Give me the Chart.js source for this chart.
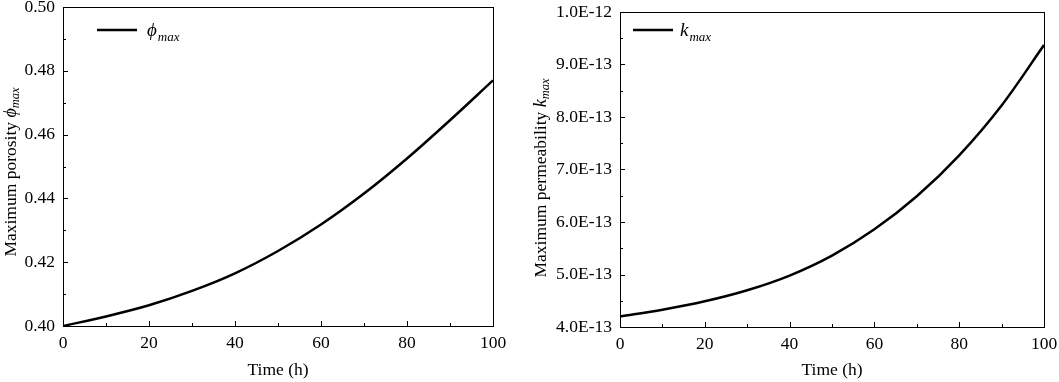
<!DOCTYPE html>
<html>
<head>
<meta charset="utf-8">
<script src="https://cdn.jsdelivr.net/npm/chart.js@4.4.1/dist/chart.umd.min.js"></script>
<style>
    html, body { margin: 0; padding: 0; background: #fff; }
    #wrap { position: relative; width: 1059px; height: 382px; }
    .panel { position: absolute; top: 0; height: 382px; }
    #left { left: 0; width: 530px; }
    #right { left: 530px; width: 529px; }
</style>
</head>
<body>
<div id="wrap">
    <div class="panel" id="left"><canvas id="porosityChart" width="530" height="382"></canvas></div>
    <div class="panel" id="right"><canvas id="permChart" width="529" height="382"></canvas></div>
</div>
<script>
// values
const timeHours = [0, 10, 20, 30, 40, 50, 60, 70, 80, 90, 100];
const maxPorosity = [0.4000, 0.4030, 0.4065, 0.4110, 0.4165, 0.4235, 0.4318, 0.4415, 0.4525, 0.4645, 0.4770];
const maxPermeability = [4.20e-13, 4.33e-13, 4.49e-13, 4.70e-13, 4.98e-13, 5.36e-13, 5.86e-13, 6.49e-13, 7.27e-13, 8.22e-13, 9.37e-13];

const timeTicks = [0, 20, 40, 60, 80, 100];
const porosityTicks = [0.40, 0.42, 0.44, 0.46, 0.48, 0.50];
const permTicks = [4e-13, 5e-13, 6e-13, 7e-13, 8e-13, 9e-13, 1e-12];

const SERIF = "'Liberation Serif', 'Times New Roman', serif";
const tickFont = { family: SERIF, size: 17.5 };

function midpoints(arr) {
    const out = [];
    for (let i = 0; i < arr.length - 1; i++) out.push((arr[i] + arr[i + 1]) / 2);
    return out;
}

// box around the plot, inward ticks, legend and y title with subscript
const figureDecor = {
    id: "figureDecor",
    afterDatasetsDraw(chart, args, opts) {
        const { ctx, chartArea: a, scales: { x, y } } = chart;
        ctx.save();
        ctx.strokeStyle = "#000";
        ctx.lineWidth = 1;
        ctx.strokeRect(a.left + 0.5, a.top + 0.5, a.right - a.left, a.bottom - a.top);

        ctx.beginPath();
        opts.xTicks.forEach((v) => {
            const px = Math.round(x.getPixelForValue(v)) + 0.5;
            ctx.moveTo(px, a.bottom);
            ctx.lineTo(px, a.bottom - 5);
        });
        midpoints(opts.xTicks).forEach((v) => {
            const px = Math.round(x.getPixelForValue(v)) + 0.5;
            ctx.moveTo(px, a.bottom);
            ctx.lineTo(px, a.bottom - 3);
        });
        opts.yTicks.forEach((v) => {
            const py = Math.round(y.getPixelForValue(v)) + 0.5;
            ctx.moveTo(a.left, py);
            ctx.lineTo(a.left + 5, py);
        });
        midpoints(opts.yTicks).forEach((v) => {
            const py = Math.round(y.getPixelForValue(v)) + 0.5;
            ctx.moveTo(a.left, py);
            ctx.lineTo(a.left + 3, py);
        });
        ctx.stroke();

        // legend
        const lx = a.left + opts.legendDx;
        const ly = a.top + opts.legendDy;
        ctx.lineWidth = 2.5;
        ctx.beginPath();
        ctx.moveTo(lx, ly);
        ctx.lineTo(lx + 40, ly);
        ctx.stroke();
        ctx.fillStyle = "#000";
        ctx.textBaseline = "alphabetic";
        ctx.textAlign = "left";
        ctx.font = "italic 19px " + SERIF;
        const sx = lx + 40 + opts.legendGap;
        ctx.fillText(opts.symbol, sx, ly + 6);
        const sw = ctx.measureText(opts.symbol).width;
        ctx.font = "italic 13px " + SERIF;
        ctx.fillText("max", sx + sw + 1, ly + 11);

        // rotated y title
        const parts = [
            { t: opts.yTitle, f: "17.5px " + SERIF, dy: 0 },
            { t: opts.symbol, f: "italic 18px " + SERIF, dy: 0 },
            { t: "max", f: "italic 12.5px " + SERIF, dy: 5 },
        ];
        let total = 0;
        parts.forEach((p) => {
            ctx.font = p.f;
            p.w = ctx.measureText(p.t).width;
            total += p.w;
        });
        ctx.translate(opts.yTitleX, opts.yTitleY);
        ctx.rotate(-Math.PI / 2);
        ctx.textBaseline = "middle";
        let cx = -total / 2;
        parts.forEach((p) => {
            ctx.font = p.f;
            ctx.fillText(p.t, cx, p.dy);
            cx += p.w;
        });
        ctx.restore();
    },
};

function buildChart(canvasId, values, cfg) {
    const ctx = document.getElementById(canvasId);
    return new Chart(ctx, {
        type: "line",
        data: {
            datasets: [
                {
                    data: timeHours.map((t, i) => ({ x: t, y: values[i] })),
                    borderColor: "#000",
                    borderWidth: 2.5,
                    pointRadius: 0,
                    cubicInterpolationMode: "monotone",
                    fill: false,
                },
            ],
        },
        options: {
            responsive: false,
            animation: false,
            devicePixelRatio: 1,
            layout: {
                padding: { top: cfg.top, right: cfg.right, bottom: 0, left: 0 },
            },
            plugins: {
                legend: { display: false },
                tooltip: { enabled: false },
                figureDecor: cfg.decor,
            },
            scales: {
                x: {
                    type: "linear",
                    min: 0,
                    max: 100,
                    afterBuildTicks: (s) => {
                        s.ticks = timeTicks.map((v) => ({ value: v }));
                    },
                    afterFit: (s) => {
                        s.height = cfg.xHeight;
                        s.paddingLeft = 0;
                        s.paddingRight = 0;
                    },
                    grid: { display: false, drawTicks: false },
                    border: { display: false },
                    ticks: {
                        color: "#000",
                        font: tickFont,
                        padding: 7,
                        maxRotation: 0,
                    },
                    title: {
                        display: true,
                        text: "Time (h)",
                        color: "#000",
                        font: tickFont,
                        padding: { top: 0, bottom: 1 },
                    },
                },
                y: {
                    type: "linear",
                    min: cfg.yMin,
                    max: cfg.yMax,
                    afterBuildTicks: (s) => {
                        s.ticks = cfg.yTicks.map((v) => ({ value: v }));
                    },
                    afterFit: (s) => {
                        s.width = cfg.yWidth;
                        s.paddingTop = 0;
                        s.paddingBottom = 0;
                    },
                    grid: { display: false, drawTicks: false },
                    border: { display: false },
                    ticks: {
                        color: "#000",
                        font: tickFont,
                        padding: 8,
                        callback: cfg.yFormat,
                    },
                },
            },
        },
        plugins: [figureDecor],
    });
}

buildChart("porosityChart", maxPorosity, {
    top: 7,
    right: 37,
    xHeight: 56,
    yWidth: 63,
    yMin: 0.4,
    yMax: 0.5,
    yTicks: porosityTicks,
    yFormat: (v) => Number(v).toFixed(2),
    decor: {
        xTicks: timeTicks,
        yTicks: porosityTicks,
        legendDx: 34,
        legendDy: 23,
        legendGap: 10,
        symbol: "\u03d5",
        yTitle: "Maximum porosity ",
        yTitleX: 11,
        yTitleY: 172,
    },
});

buildChart("permChart", maxPermeability, {
    top: 12,
    right: 15,
    xHeight: 55,
    yWidth: 90,
    yMin: 4e-13,
    yMax: 1e-12,
    yTicks: permTicks,
    yFormat: (v) => Number(v).toExponential(1).toUpperCase(),
    decor: {
        xTicks: timeTicks,
        yTicks: permTicks,
        legendDx: 13,
        legendDy: 18,
        legendGap: 7,
        symbol: "k",
        yTitle: "Maximum permeability ",
        yTitleX: 11,
        yTitleY: 178,
    },
});
</script>
</body>
</html>
